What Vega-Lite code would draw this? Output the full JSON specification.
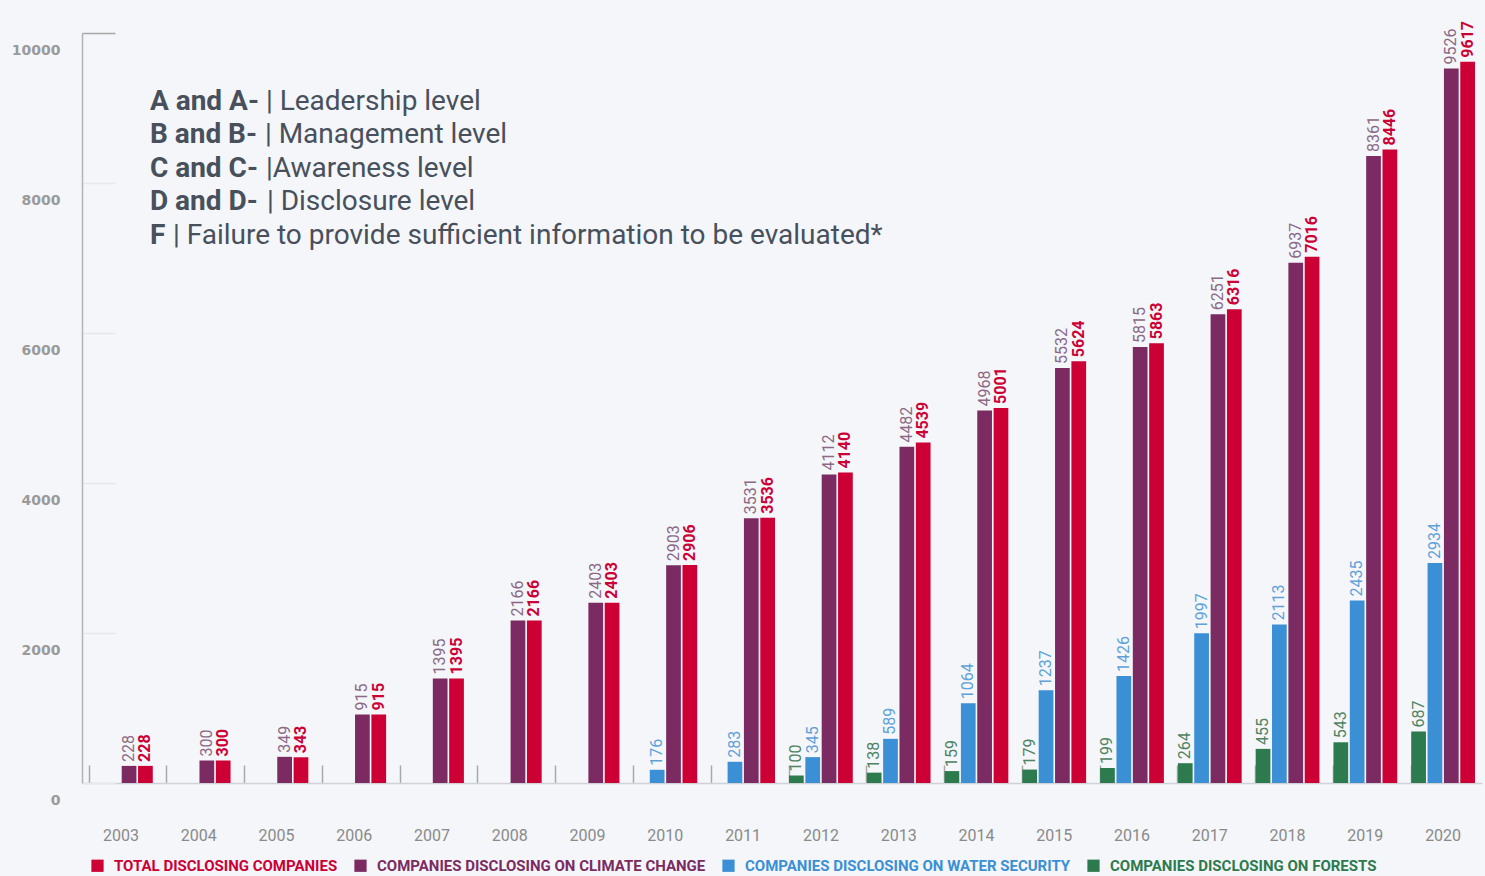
{
  "$schema": "https://vega.github.io/schema/vega-lite/v6.json",
  "width": 1400,
  "height": 750,
  "autosize": "none",
  "padding": {"left": 82, "top": 33, "right": 3, "bottom": 93},
  "background": "#f4f6f9",
  "config": {"view": {"stroke": null}, "font": "Roboto"},
  "layer": [
    {
      "data": {
        "values": [
          {"year": "2003", "climate": 228, "total": 228},
          {"year": "2004", "climate": 300, "total": 300},
          {"year": "2005", "climate": 349, "total": 343},
          {"year": "2006", "climate": 915, "total": 915},
          {"year": "2007", "climate": 1395, "total": 1395},
          {"year": "2008", "climate": 2166, "total": 2166},
          {"year": "2009", "climate": 2403, "total": 2403},
          {"year": "2010", "water": 176, "climate": 2903, "total": 2906},
          {"year": "2011", "water": 283, "climate": 3531, "total": 3536},
          {"year": "2012", "forests": 100, "water": 345, "climate": 4112, "total": 4140},
          {"year": "2013", "forests": 138, "water": 589, "climate": 4482, "total": 4539},
          {"year": "2014", "forests": 159, "water": 1064, "climate": 4968, "total": 5001},
          {"year": "2015", "forests": 179, "water": 1237, "climate": 5532, "total": 5624},
          {"year": "2016", "forests": 199, "water": 1426, "climate": 5815, "total": 5863},
          {"year": "2017", "forests": 264, "water": 1997, "climate": 6251, "total": 6316},
          {"year": "2018", "forests": 455, "water": 2113, "climate": 6937, "total": 7016},
          {"year": "2019", "forests": 543, "water": 2435, "climate": 8361, "total": 8446},
          {"year": "2020", "forests": 687, "water": 2934, "climate": 9526, "total": 9617}
        ]
      },
      "transform": [
        {"fold": ["forests", "water", "climate", "total"], "as": ["series", "value"]},
        {"filter": "datum.value != null"}
      ],
      "encoding": {
        "x": {
          "field": "year",
          "type": "nominal",
          "scale": {"paddingInner": 0.18, "paddingOuter": 0.09},
          "axis": {
            "title": null,
            "bandPosition": 0,
            "tickSize": -18,
            "tickColor": "#a8a8a8",
            "tickWidth": 1.5,
            "domainColor": "#cfd2d6",
            "domainWidth": 1.5,
            "labelPadding": 62,
            "labelAngle": 0,
            "labelColor": "#8a8a8a",
            "labelFont": "Roboto",
            "labelFontSize": 16
          }
        },
        "xOffset": {
          "field": "series",
          "scale": {"domain": ["forests", "water", "climate", "total"], "paddingInner": 0.1}
        },
        "y": {
          "field": "value",
          "type": "quantitative",
          "scale": {"domain": [0, 10000], "nice": false},
          "axis": {
            "title": null,
            "values": [0, 2000, 4000, 6000, 8000, 10000],
            "format": "d",
            "grid": false,
            "domainColor": "#b4b4b4",
            "domainWidth": 1.5,
            "tickSize": -33,
            "tickWidth": 1.5,
            "tickColor": {"condition": {"test": "datum.value == 10000", "value": "#a8a8a8"}, "value": "#e6e8ea"},
            "labelOffset": 17,
            "labelPadding": 55,
            "labelColor": "#9a9a9a",
            "labelFont": "DejaVu Sans",
            "labelFontWeight": "bold",
            "labelFontSize": 14
          }
        }
      },
      "layer": [
        {
          "mark": {"type": "bar"},
          "encoding": {
            "color": {
              "field": "series",
              "type": "nominal",
              "scale": {
                "domain": ["total", "climate", "water", "forests"],
                "range": ["#cc0035", "#7b2b61", "#3b8fd5", "#2d7a4f"]
              },
              "legend": {
                "title": null,
                "orient": "none",
                "legendX": 8,
                "legendY": 825,
                "direction": "horizontal",
                "symbolType": "square",
                "symbolSize": 150,
                "symbolStrokeWidth": 0,
                "symbolOpacity": 1,
                "columnPadding": 15,
                "labelOffset": 9,
                "labelFont": "Roboto",
                "labelFontSize": 15,
                "labelFontWeight": "bold",
                "labelLimit": 400,
                "labelExpr": "datum.value == 'total' ? 'TOTAL DISCLOSING COMPANIES' : datum.value == 'climate' ? 'COMPANIES DISCLOSING ON CLIMATE CHANGE' : datum.value == 'water' ? 'COMPANIES DISCLOSING ON WATER SECURITY' : 'COMPANIES DISCLOSING ON FORESTS'",
                "encode": {"labels": {"update": {"fill": {"scale": "color", "field": "value"}}}}
              }
            }
          }
        },
        {
          "transform": [{"filter": "datum.series != 'total'"}],
          "mark": {"type": "text", "angle": 270, "align": "left", "baseline": "middle", "dx": 4, "font": "Roboto", "fontSize": 16},
          "encoding": {
            "text": {"field": "value", "type": "quantitative"},
            "fill": {
              "field": "series",
              "type": "nominal",
              "scale": {"domain": ["total", "climate", "water", "forests"], "range": ["#cc0035", "#8c6a86", "#5fa2da", "#4f8463"]},
              "legend": null
            }
          }
        },
        {
          "transform": [{"filter": "datum.series == 'total'"}],
          "mark": {"type": "text", "angle": 270, "align": "left", "baseline": "middle", "dx": 4, "font": "Roboto", "fontSize": 16, "fontWeight": "bold", "fill": "#cc0035"},
          "encoding": {
            "text": {"field": "value", "type": "quantitative"}
          }
        }
      ]
    },
    {
      "data": {"values": [{"k": "A and A-", "d": "| Leadership level"}]},
      "encoding": {"x": {"datum": "2003", "type": "nominal"}, "y": {"datum": 9080, "type": "quantitative"}},
      "layer": [
        {"mark": {"type": "text", "align": "left", "baseline": "middle", "font": "Roboto", "fontSize": 28, "fontWeight": "bold", "fill": "#48505c", "dx": 29}, "encoding": {"text": {"field": "k"}}},
        {"mark": {"type": "text", "align": "left", "baseline": "middle", "font": "Roboto", "fontSize": 28, "fill": "#48505c", "dx": 145}, "encoding": {"text": {"field": "d"}}}
      ]
    },
    {
      "data": {"values": [{"k": "B and B-", "d": "| Management level"}]},
      "encoding": {"x": {"datum": "2003", "type": "nominal"}, "y": {"datum": 8640, "type": "quantitative"}},
      "layer": [
        {"mark": {"type": "text", "align": "left", "baseline": "middle", "font": "Roboto", "fontSize": 28, "fontWeight": "bold", "fill": "#48505c", "dx": 29}, "encoding": {"text": {"field": "k"}}},
        {"mark": {"type": "text", "align": "left", "baseline": "middle", "font": "Roboto", "fontSize": 28, "fill": "#48505c", "dx": 144}, "encoding": {"text": {"field": "d"}}}
      ]
    },
    {
      "data": {"values": [{"k": "C and C-", "d": "|Awareness level"}]},
      "encoding": {"x": {"datum": "2003", "type": "nominal"}, "y": {"datum": 8187, "type": "quantitative"}},
      "layer": [
        {"mark": {"type": "text", "align": "left", "baseline": "middle", "font": "Roboto", "fontSize": 28, "fontWeight": "bold", "fill": "#48505c", "dx": 29}, "encoding": {"text": {"field": "k"}}},
        {"mark": {"type": "text", "align": "left", "baseline": "middle", "font": "Roboto", "fontSize": 28, "fill": "#48505c", "dx": 145}, "encoding": {"text": {"field": "d"}}}
      ]
    },
    {
      "data": {"values": [{"k": "D and D-", "d": "| Disclosure level"}]},
      "encoding": {"x": {"datum": "2003", "type": "nominal"}, "y": {"datum": 7747, "type": "quantitative"}},
      "layer": [
        {"mark": {"type": "text", "align": "left", "baseline": "middle", "font": "Roboto", "fontSize": 28, "fontWeight": "bold", "fill": "#48505c", "dx": 29}, "encoding": {"text": {"field": "k"}}},
        {"mark": {"type": "text", "align": "left", "baseline": "middle", "font": "Roboto", "fontSize": 28, "fill": "#48505c", "dx": 146}, "encoding": {"text": {"field": "d"}}}
      ]
    },
    {
      "data": {"values": [{"k": "F", "d": "| Failure to provide sufficient information to be evaluated*"}]},
      "encoding": {"x": {"datum": "2003", "type": "nominal"}, "y": {"datum": 7293, "type": "quantitative"}},
      "layer": [
        {"mark": {"type": "text", "align": "left", "baseline": "middle", "font": "Roboto", "fontSize": 28, "fontWeight": "bold", "fill": "#48505c", "dx": 29}, "encoding": {"text": {"field": "k"}}},
        {"mark": {"type": "text", "align": "left", "baseline": "middle", "font": "Roboto", "fontSize": 28, "fill": "#48505c", "dx": 52}, "encoding": {"text": {"field": "d"}}}
      ]
    }
  ]
}
